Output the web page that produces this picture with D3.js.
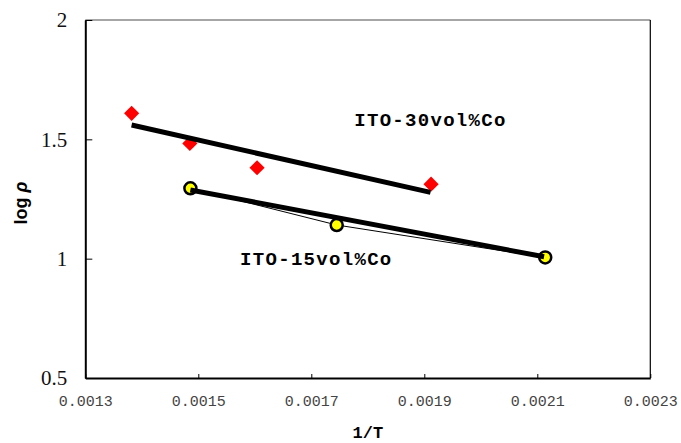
<!DOCTYPE html>
<html>
<head>
<meta charset="utf-8">
<script src="https://cdn.jsdelivr.net/npm/d3@7"></script>
<style>
  body { margin: 0; background: #fff; }
  svg { display: block; }
</style>
</head>
<body>
<svg id="chart"></svg>
<script>
  // data
  const invT30 = [0.001382, 0.001485, 0.001604, 0.001912]
  const logRho30 = [1.609, 1.483, 1.381, 1.312]
  const invT15 = [0.001486, 0.001745, 0.002114]
  const logRho15 = [1.295, 1.141, 1.005]
  // fitted straight lines (end points)
  const fitX30 = [0.001382, 0.001911]
  const fitY30 = [1.560, 1.278]
  const fitX15 = [0.001486, 0.002112]
  const fitY15 = [1.288, 1.008]
  const xTicks = [0.0013, 0.0015, 0.0017, 0.0019, 0.0021, 0.0023]
  const yTicks = [0.5, 1, 1.5, 2]

  const width = 681
  const height = 443
  const margin = { left: 85.3, right: 30.7, top: 20, bottom: 65 }

  const svg = d3.select("#chart")
      .attr("width", width)
      .attr("height", height)

  const x = d3.scaleLinear()
      .domain([0.0013, 0.0023])
      .range([margin.left, width - margin.right])
  const y = d3.scaleLinear()
      .domain([0.5, 2])
      .range([height - margin.bottom, margin.top])

  const x0 = x.range()[0], x1 = x.range()[1]
  const yb = y.range()[0], yt = y.range()[1]

  // frame: grey top, black other sides
  svg.append("line")
      .attr("x1", x0).attr("x2", x1).attr("y1", yt).attr("y2", yt)
      .attr("stroke", "#888").attr("stroke-width", 1.5)
  svg.append("line")
      .attr("x1", x1).attr("x2", x1).attr("y1", yt).attr("y2", yb)
      .attr("stroke", "#000").attr("stroke-width", 1.2)

  // x axis, ticks pointing inward
  const xAxis = svg.append("g")
      .attr("transform", `translate(0,${yb})`)
      .call(d3.axisBottom(x).tickValues(xTicks).tickSizeInner(-4).tickSizeOuter(0)
          .tickFormat(d3.format(".4f")))
  xAxis.select(".domain").attr("stroke", "#000").attr("stroke-width", 2)
  xAxis.selectAll(".tick line").attr("stroke", "#000")
  xAxis.selectAll(".tick text")
      .attr("y", 17)
      .attr("dy", "0.71em")
      .attr("font-family", "'Liberation Mono', 'Courier New', monospace")
      .attr("font-size", 15)
      .attr("fill", "#444")

  // y axis, ticks pointing inward
  const yAxis = svg.append("g")
      .attr("transform", `translate(${x0},0)`)
      .call(d3.axisLeft(y).tickValues(yTicks).tickSizeInner(-7).tickSizeOuter(0)
          .tickFormat(d3.format("")))
  yAxis.select(".domain").attr("stroke", "#000").attr("stroke-width", 2)
  yAxis.selectAll(".tick line").attr("stroke", "#000")
  yAxis.selectAll(".tick text")
      .attr("x", -18)
      .attr("font-family", "'Liberation Serif', 'Times New Roman', serif")
      .attr("font-size", 21)
      .attr("fill", "#111")

  // axis titles
  svg.append("text")
      .attr("x", (x0 + x1) / 2)
      .attr("y", 438)
      .attr("text-anchor", "middle")
      .attr("font-family", "'Liberation Mono', 'Courier New', monospace")
      .attr("font-weight", "bold")
      .attr("font-size", 17)
      .text("1/T")

  const yTitle = svg.append("text")
      .attr("transform", "translate(27,203) rotate(-90)")
      .attr("text-anchor", "middle")
      .attr("font-family", "Arial, 'Liberation Sans', sans-serif")
      .attr("font-weight", "bold")
      .attr("font-size", 18)
  yTitle.append("tspan").text("log ")
  yTitle.append("tspan").attr("font-style", "italic").text("ρ")

  // red diamonds (30 vol%)
  const pts30 = invT30.map((v, i) => [v, logRho30[i]])
  svg.append("g")
      .selectAll("path")
      .data(pts30)
      .enter().append("path")
      .attr("d", d3.symbol().type(d3.symbolSquare).size(115))
      .attr("transform", d => `translate(${x(d[0])},${y(d[1])}) rotate(45)`)
      .attr("fill", "#ff0000")

  // yellow circles (15 vol%) with a thin joining line
  const pts15 = invT15.map((v, i) => [v, logRho15[i]])
  svg.append("path")
      .datum(pts15)
      .attr("d", d3.line().x(d => x(d[0])).y(d => y(d[1])))
      .attr("fill", "none")
      .attr("stroke", "#000")
      .attr("stroke-width", 1)
  svg.append("g")
      .selectAll("circle")
      .data(pts15)
      .enter().append("circle")
      .attr("cx", d => x(d[0]))
      .attr("cy", d => y(d[1]))
      .attr("r", 6)
      .attr("fill", "#ffff00")
      .attr("stroke", "#000")
      .attr("stroke-width", 2.5)

  // thick fit lines
  const fits = [
    fitX30.map((v, i) => [v, fitY30[i]]),
    fitX15.map((v, i) => [v, fitY15[i]])
  ]
  svg.append("g")
      .selectAll("path")
      .data(fits)
      .enter().append("path")
      .attr("d", d3.line().x(d => x(d[0])).y(d => y(d[1])))
      .attr("fill", "none")
      .attr("stroke", "#000")
      .attr("stroke-width", 5)

  // series labels
  const labels = [
    { text: "ITO-30vol%Co", x: 0.001776, y: 1.555 },
    { text: "ITO-15vol%Co", x: 0.001574, y: 0.973 }
  ]
  svg.append("g")
      .selectAll("text")
      .data(labels)
      .enter().append("text")
      .attr("x", d => x(d.x))
      .attr("y", d => y(d.y))
      .attr("font-family", "'Liberation Mono', 'Courier New', monospace")
      .attr("font-weight", "bold")
      .attr("font-size", 19)
      .attr("letter-spacing", 1.3)
      .text(d => d.text)
</script>
</body>
</html>
